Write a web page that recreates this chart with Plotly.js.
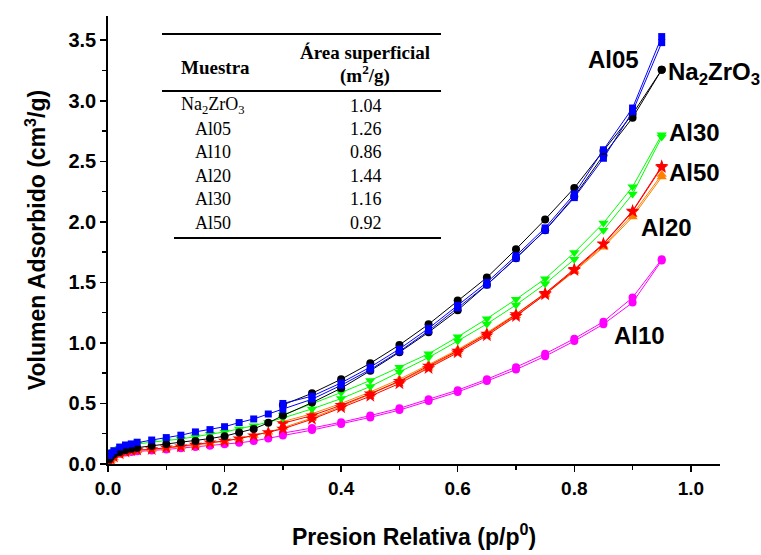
<!DOCTYPE html>
<html>
<head>
<meta charset="utf-8">
<script src="https://cdn.plot.ly/plotly-3.0.1.min.js"></script>
<style>html,body{margin:0;padding:0;background:#fff;}#chart{width:761px;height:555px;}</style>
</head>
<body>
<div id="chart"></div>
<script>
// ---------- data ----------
const pAds = [0.002,0.005,0.01,0.02,0.03,0.04,0.05,0.075,0.1,0.125,0.15,0.175,0.2,0.225,0.25,0.275,0.3,0.35,0.4,0.45,0.5,0.55,0.6,0.65,0.7,0.75,0.8,0.85,0.9,0.95];
const pDes = [0.95,0.9,0.85,0.8,0.75,0.7,0.65,0.6,0.55,0.5,0.45,0.4,0.35,0.3];

const na2zro3Ads = [0.04,0.06,0.08,0.10,0.115,0.125,0.135,0.15,0.165,0.18,0.19,0.21,0.23,0.26,0.29,0.34,0.40,0.507,0.626,0.77,0.923,1.088,1.27,1.48,1.70,1.93,2.21,2.55,2.86,3.256];
const na2zro3Des = [3.256,2.89,2.587,2.28,2.02,1.774,1.54,1.35,1.154,0.983,0.832,0.70,0.584,0.488];

const al05Ads = [0.07,0.09,0.11,0.14,0.157,0.166,0.18,0.198,0.218,0.238,0.265,0.284,0.308,0.342,0.372,0.413,0.452,0.535,0.65,0.78,0.93,1.10,1.29,1.48,1.70,1.93,2.20,2.525,2.91,3.48];
const al05Des = [3.53,2.94,2.595,2.23,1.95,1.72,1.50,1.31,1.12,0.95,0.80,0.67,0.56,0.50];

const al10Ads = [0.03,0.05,0.065,0.085,0.095,0.10,0.105,0.112,0.12,0.13,0.14,0.15,0.163,0.175,0.19,0.21,0.235,0.28,0.33,0.385,0.445,0.52,0.595,0.685,0.78,0.89,1.015,1.155,1.333,1.68];
const al10Des = [1.69,1.375,1.175,1.035,0.91,0.80,0.70,0.61,0.535,0.46,0.40,0.345,0.297,0.255];

const al20Ads = [0.01,0.03,0.05,0.075,0.09,0.10,0.11,0.12,0.13,0.142,0.155,0.172,0.19,0.21,0.236,0.263,0.30,0.38,0.475,0.575,0.68,0.80,0.93,1.07,1.225,1.40,1.59,1.79,2.04,2.37];
const al20Des = [2.39,2.06,1.80,1.60,1.41,1.24,1.085,0.945,0.82,0.70,0.595,0.50,0.415,0.35];

const al30Ads = [0.06,0.088,0.105,0.13,0.143,0.155,0.165,0.18,0.193,0.207,0.226,0.245,0.265,0.29,0.315,0.345,0.38,0.455,0.54,0.64,0.76,0.88,1.016,1.157,1.314,1.488,1.69,1.93,2.23,2.70];
const al30Des = [2.72,2.29,1.99,1.746,1.53,1.36,1.20,1.05,0.91,0.80,0.69,0.59,0.50,0.405];

const al50Ads = [0.02,0.04,0.06,0.085,0.10,0.11,0.116,0.121,0.135,0.143,0.157,0.176,0.19,0.21,0.235,0.26,0.29,0.37,0.465,0.56,0.665,0.79,0.92,1.06,1.22,1.40,1.60,1.815,2.085,2.45];
const al50Des = [2.46,2.09,1.82,1.61,1.41,1.235,1.075,0.935,0.81,0.685,0.58,0.485,0.40,0.336];

// table
const tableSamples = ['Na<sub>2</sub>ZrO<sub>3</sub>','Al05','Al10','Al20','Al30','Al50'];
const tableAreas = ['1.04','1.26','0.86','1.44','1.16','0.92'];

// curve labels
const labelTexts = ['Al05','Na<sub>2</sub>ZrO<sub>3</sub>','Al30','Al50','Al20','Al10'];

// ---------- layout helpers ----------
const W = 761, H = 555;
const M = {l:108, r:41, t:16, b:91};
const pw = W - M.l - M.r, ph = H - M.t - M.b;
const px = x => (x - M.l) / pw;
const py = y => (H - M.b - y) / ph;

const series = [
  {name:'Na2ZrO3', ads:na2zro3Ads, des:na2zro3Des, color:'#000000', symbol:'circle', size:8},
  {name:'Al05', ads:al05Ads, des:al05Des, color:'#0000ff', symbol:'square', size:7},
  {name:'Al10', ads:al10Ads, des:al10Des, color:'#ff00ff', symbol:'circle', size:8},
  {name:'Al20', ads:al20Ads, des:al20Des, color:'#ff8000', symbol:'triangle-up', size:9},
  {name:'Al30', ads:al30Ads, des:al30Des, color:'#00ff00', symbol:'triangle-down', size:9},
  {name:'Al50', ads:al50Ads, des:al50Des, color:'#ff0000', symbol:'star', size:10}
];
const drawOrder = [2,3,5,4,0,1];
const traces = [];
drawOrder.forEach(i => {
  const s = series[i];
  [[pAds, s.ads],[pDes, s.des]].forEach(([xx,yy]) => {
    traces.push({
      x: xx, y: yy, type:'scatter', mode:'lines+markers', name:s.name, showlegend:false,
      line:{color:s.color, width:1},
      marker:{color:s.color, symbol:s.symbol, size:s.size, line:{width:0}}
    });
  });
});

const annotations = [];
const lblFont = {family:'Liberation Sans, Arial, sans-serif', size:24, color:'#000'};
const lblPos = [[586,60],[666,73],[667,132],[667,172],[639,227],[612,335]];
labelTexts.forEach((t,i) => {
  annotations.push({xref:'paper', yref:'paper', x:px(lblPos[i][0]), y:py(lblPos[i][1]), text:'<b>'+t+'</b>',
    showarrow:false, xanchor:'left', yanchor:'middle', font:lblFont});
});

const tFont = {family:'Liberation Serif, Times New Roman, serif', size:18, color:'#000'};
const thFont = {family:'Liberation Serif, Times New Roman, serif', size:19, color:'#000'};
annotations.push({xref:'paper', yref:'paper', x:px(215), y:py(67), text:'<b>Muestra</b>', showarrow:false, xanchor:'center', yanchor:'middle', font:thFont});
annotations.push({xref:'paper', yref:'paper', x:px(365), y:py(53), text:'<b>Área superficial</b>', showarrow:false, xanchor:'center', yanchor:'middle', font:thFont});
annotations.push({xref:'paper', yref:'paper', x:px(365), y:py(74), text:'<b>(m<sup>2</sup>/g)</b>', showarrow:false, xanchor:'center', yanchor:'middle', font:thFont});
const rowY = [106,129,152,176,199,223];
tableSamples.forEach((s,i) => {
  annotations.push({xref:'paper', yref:'paper', x:px(213), y:py(rowY[i]), text:s, showarrow:false, xanchor:'center', yanchor:'middle', font:tFont});
  annotations.push({xref:'paper', yref:'paper', x:px(366), y:py(rowY[i]), text:tableAreas[i], showarrow:false, xanchor:'center', yanchor:'middle', font:tFont});
});

const shapes = [
  {type:'line', xref:'paper', yref:'paper', x0:px(162), x1:px(441), y0:py(34), y1:py(34), line:{color:'#000', width:2}},
  {type:'line', xref:'paper', yref:'paper', x0:px(162), x1:px(441), y0:py(91), y1:py(91), line:{color:'#000', width:2}},
  {type:'line', xref:'paper', yref:'paper', x0:px(174), x1:px(441), y0:py(238), y1:py(238), line:{color:'#000', width:2}}
];

const xtFont = {family:'Liberation Sans, Arial, sans-serif', size:19, color:'#000'};
const ytFont = {family:'Liberation Sans, Arial, sans-serif', size:20, color:'#000'};
const titleFont = {family:'Liberation Sans, Arial, sans-serif', size:23, color:'#000'};
const layout = {
  width:W, height:H, margin:M, paper_bgcolor:'#fff', plot_bgcolor:'#fff', showlegend:false,
  xaxis:{range:[0,1.05], tickvals:[0,0.2,0.4,0.6,0.8,1.0], ticktext:['<b>0.0</b>','<b>0.2</b>','<b>0.4</b>','<b>0.6</b>','<b>0.8</b>','<b>1.0</b>'],
    ticks:'outside', ticklen:6, tickwidth:1.5, tickcolor:'#000', showline:true, linecolor:'#000', linewidth:1.8,
    showgrid:false, zeroline:false, tickfont:xtFont,
    minor:{tickvals:[0.1,0.3,0.5,0.7,0.9], ticks:'outside', ticklen:4, tickwidth:1.5, tickcolor:'#000', showgrid:false},
    title:{text:'<b>Presion Relativa (p/p<sup>0</sup>)</b>', font:titleFont, standoff:31}},
  yaxis:{range:[0,3.7], tickvals:[0,0.5,1.0,1.5,2.0,2.5,3.0,3.5], ticktext:['<b>0.0</b>','<b>0.5</b>','<b>1.0</b>','<b>1.5</b>','<b>2.0</b>','<b>2.5</b>','<b>3.0</b>','<b>3.5</b>'],
    ticks:'outside', ticklen:6, tickwidth:1.5, tickcolor:'#000', showline:true, linecolor:'#000', linewidth:1.8,
    showgrid:false, zeroline:false, tickfont:ytFont,
    minor:{tickvals:[0.25,0.75,1.25,1.75,2.25,2.75,3.25], ticks:'outside', ticklen:4, tickwidth:1.5, tickcolor:'#000', showgrid:false},
    title:{text:'<b>Volumen Adsorbido (cm<sup>3</sup>/g)</b>', font:titleFont, standoff:16}},
  annotations:annotations, shapes:shapes
};
Plotly.newPlot('chart', traces, layout, {displayModeBar:false, staticPlot:true});
</script>
</body>
</html>
